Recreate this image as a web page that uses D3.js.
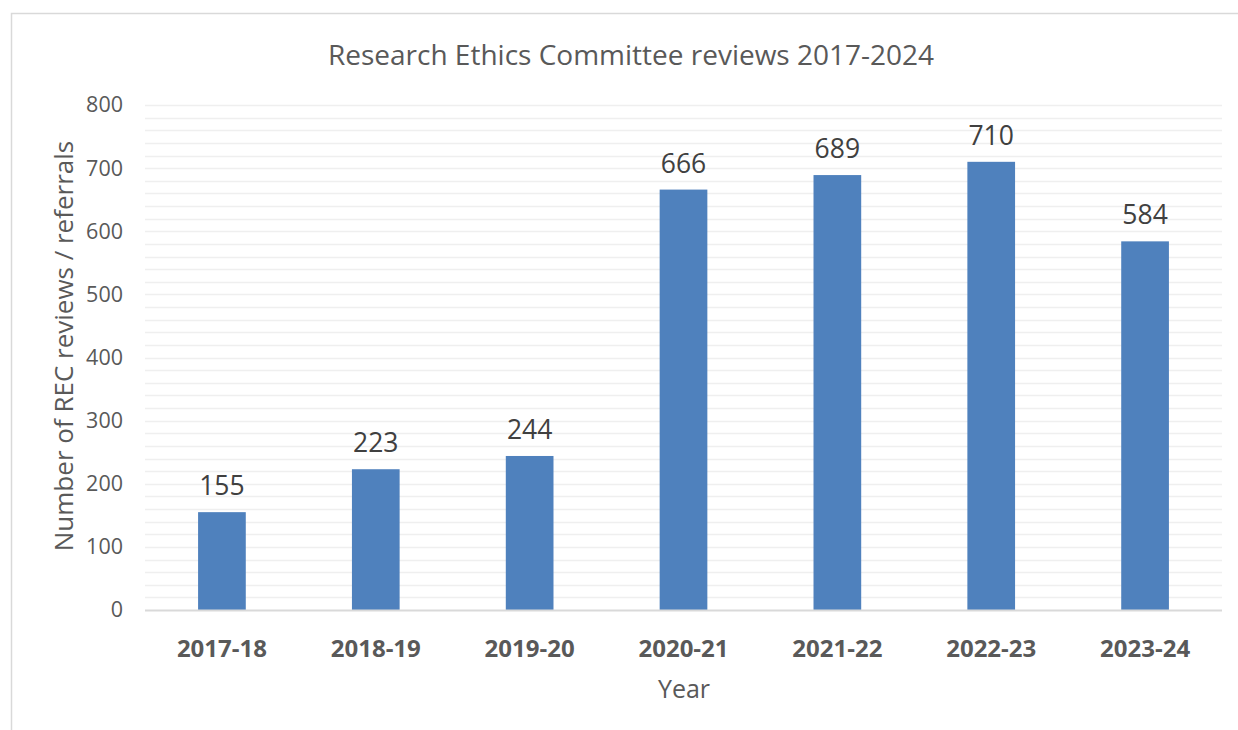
<!DOCTYPE html>
<html><head><meta charset="utf-8">
<script src="https://cdn.jsdelivr.net/npm/d3@7"></script>
<style>
html,body{margin:0;padding:0;background:#fff;}
svg{display:block;font-family:"Open Sans",sans-serif;}
</style></head>
<body>
<svg id="c" width="1238" height="730"></svg>
<script>
const categories = ["2017-18","2018-19","2019-20","2020-21","2021-22","2022-23","2023-24"];
const values = [155,223,244,666,689,710,584];
const yTicks = [0,100,200,300,400,500,600,700,800];
const title = "Research Ethics Committee reviews 2017-2024";
const yTitle = "Number of REC reviews / referrals";
const xTitle = "Year";

const svg = d3.select("#c");
const m = {left:145, right:1222, top:105, bottom:610};

// outer border
svg.append("path").attr("d","M11.5,730 V13.5 H1238").attr("fill","none").attr("stroke","#d9d9d9").attr("stroke-width",1.5);

const x = d3.scaleBand().domain(categories).range([m.left,m.right]).paddingInner(0.69).paddingOuter(0.345);
const y = d3.scaleLinear().domain([0,800]).range([m.bottom,m.top]);

// minor + major gridlines
const grid = d3.range(20,801,20);
svg.append("g").selectAll("line").data(grid).join("line")
  .attr("x1",m.left).attr("x2",m.right)
  .attr("y1",d=>Math.round(y(d))+0.5).attr("y2",d=>Math.round(y(d))+0.5)
  .attr("stroke","#efefef").attr("stroke-width",1.3);

// y axis labels
const yAxis = d3.axisLeft(y).tickValues(yTicks).tickSize(0).tickPadding(0);
const ya = svg.append("g").attr("transform","translate(123,0)").call(yAxis);
ya.select(".domain").remove();
ya.selectAll("text").attr("font-size",21.5).attr("fill","#595959").attr("font-family","Open Sans");

// bars
svg.append("g").selectAll("rect").data(values).join("rect")
  .attr("x",(d,i)=>x(categories[i])).attr("width",x.bandwidth())
  .attr("y",d=>y(d)).attr("height",d=>y(0)-y(d))
  .attr("fill","#4f81bd");

// x axis baseline
svg.append("line").attr("x1",m.left).attr("x2",m.right).attr("y1",y(0)+0.5).attr("y2",y(0)+0.5)
  .attr("stroke","#d9d9d9").attr("stroke-width",2);

// x axis labels
const xAxis = d3.axisBottom(x).tickSize(0).tickPadding(0);
const xa = svg.append("g").attr("transform",`translate(0,${y(0)+47})`).call(xAxis);
xa.select(".domain").remove();
xa.selectAll("text").attr("font-size",24).attr("font-weight","bold").attr("fill","#595959").attr("dy",0).attr("font-family","Open Sans");

// data labels
svg.append("g").selectAll("text").data(values).join("text")
  .attr("x",(d,i)=>x(categories[i])+x.bandwidth()/2).attr("y",d=>y(d)-17)
  .attr("text-anchor","middle").attr("font-size",26.5).attr("fill","#404040").text(d=>d);

// title
svg.append("text").attr("x",631).attr("y",65).attr("text-anchor","middle")
  .attr("font-size",28).attr("fill","#595959").text(title);
// axis titles
svg.append("text").attr("x",684).attr("y",698).attr("text-anchor","middle")
  .attr("font-size",25).attr("fill","#595959").text(xTitle);
svg.append("text").attr("transform","translate(73,346) rotate(-90)").attr("text-anchor","middle")
  .attr("font-size",26).attr("fill","#595959").text(yTitle);
</script>
</body></html>
